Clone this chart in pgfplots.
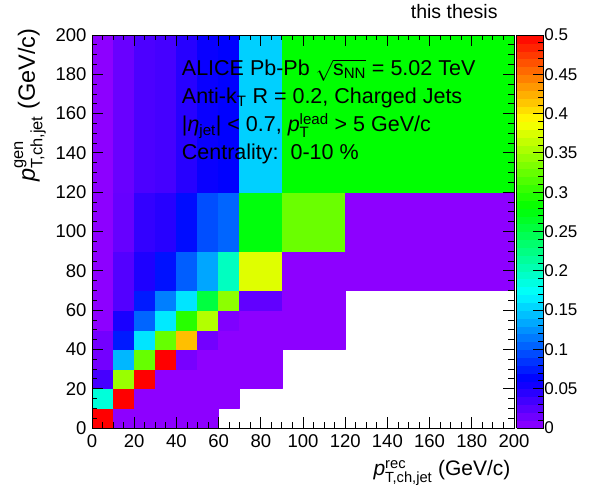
\documentclass[border=0pt]{standalone}
\usepackage{fontspec}
\setmainfont{Liberation Sans}
\usepackage{amsmath}
\usepackage{pgfplots}
\pgfplotsset{compat=1.18}
\pgfplotsset{colormap={rootpal}{rgb(0pt)=(0.573,0,1) rgb(34.4pt)=(0,0,1) rgb(94.4pt)=(0,1,1) rgb(154.4pt)=(0,1,0) rgb(214.4pt)=(1,1,0) rgb(274.4pt)=(1,0,0)}}
\begin{document}
\begin{tikzpicture}
\useasboundingbox (-92pt,-70pt) rectangle (498pt,428pt);
\begin{axis}[
  at={(0pt,0pt)}, anchor=south west,
  scale only axis, width=422pt, height=393pt,
  xmin=0, xmax=200, ymin=0, ymax=200,
  xtick={0,20,...,200}, ytick={0,20,...,200},
  minor tick num=3,
  tick align=inside,
  major tick length=11pt, minor tick length=5.5pt,
  every tick/.style={black, line width=0.8pt},
  axis line style={line width=0.8pt},
  axis on top, clip=false,
  /pgf/number format/assume math mode=true,
  tick label style={font=\fontsize{18.5}{18.5}\selectfont},
  xticklabel style={yshift=-3pt},
  yticklabel style={xshift=-2pt},
  colormap name=rootpal,
  point meta min=0, point meta max=0.5,
  colorbar sampled,
  colorbar/width=27pt,
  colorbar style={
    samples=51,
    at={(parent axis.north east)}, anchor=north west, xshift=-6pt,
    scale only axis, width=27pt, height=393pt,
    ymin=0, ymax=0.5,
    ytick={0,0.05,0.1,0.15,0.2,0.25,0.3,0.35,0.4,0.45,0.5},
    yticklabels={0,0.05,0.1,0.15,0.2,0.25,0.3,0.35,0.4,0.45,0.5},
    minor y tick num=4,
    tick align=inside,
    ytick pos=right,
    major tick length=11pt, minor tick length=5.5pt,
    every tick/.style={black, line width=0.8pt},
    axis line style={line width=0.6pt},
    yticklabel style={font=\fontsize{17}{17}\selectfont, xshift=-2.7pt},
  },
  xlabel={\textit{p}$^{\text{rec}}_{\text{T,ch,jet}}$ (GeV/c)},
  xlabel style={font=\fontsize{21}{21}\selectfont, at={([yshift=-48pt]axis description cs:1,0)}, anchor=base east},
  ylabel={\textit{p}$^{\text{gen}}_{\text{T,ch,jet}}$ (GeV/c)},
  ylabel style={font=\fontsize{23.5}{23.5}\selectfont, at={([xshift=-57pt,yshift=10pt]axis description cs:0,1)}, anchor=base east},
]
\addplot[patch, patch type=rectangle, shader=flat, point meta=explicit] coordinates {
% row 0: 0-10
(0,0)[0.5] (10,0)[0.5] (10,10)[0.5] (0,10)[0.5]
(10,0)[0.002] (20,0)[0.002] (20,10)[0.002] (10,10)[0.002]
(20,0)[0.002] (30,0)[0.002] (30,10)[0.002] (20,10)[0.002]
(30,0)[0.002] (40,0)[0.002] (40,10)[0.002] (30,10)[0.002]
(40,0)[0.002] (50,0)[0.002] (50,10)[0.002] (40,10)[0.002]
(50,0)[0.002] (60,0)[0.002] (60,10)[0.002] (50,10)[0.002]
% row 1: 10-20
(0,10)[0.188] (10,10)[0.188] (10,20)[0.188] (0,20)[0.188]
(10,10)[0.5] (20,10)[0.5] (20,20)[0.5] (10,20)[0.5]
(20,10)[0.002] (30,10)[0.002] (30,20)[0.002] (20,20)[0.002]
(30,10)[0.002] (40,10)[0.002] (40,20)[0.002] (30,20)[0.002]
(40,10)[0.002] (50,10)[0.002] (50,20)[0.002] (40,20)[0.002]
(50,10)[0.002] (60,10)[0.002] (60,20)[0.002] (50,20)[0.002]
(60,10)[0.002] (70,10)[0.002] (70,20)[0.002] (60,20)[0.002]
% row 2: 20-30
(0,20)[0.033] (10,20)[0.033] (10,30)[0.033] (0,30)[0.033]
(10,20)[0.347] (20,20)[0.347] (20,30)[0.347] (10,30)[0.347]
(20,20)[0.5] (30,20)[0.5] (30,30)[0.5] (20,30)[0.5]
(30,20)[0.002] (40,20)[0.002] (40,30)[0.002] (30,30)[0.002]
(40,20)[0.002] (50,20)[0.002] (50,30)[0.002] (40,30)[0.002]
(50,20)[0.002] (60,20)[0.002] (60,30)[0.002] (50,30)[0.002]
(60,20)[0.002] (70,20)[0.002] (70,30)[0.002] (60,30)[0.002]
(70,20)[0.002] (90,20)[0.002] (90,30)[0.002] (70,30)[0.002]
% row 3: 30-40
(0,30)[0.0135] (10,30)[0.0135] (10,40)[0.0135] (0,40)[0.0135]
(10,30)[0.141] (20,30)[0.141] (20,40)[0.141] (10,40)[0.141]
(20,30)[0.325] (30,30)[0.325] (30,40)[0.325] (20,40)[0.325]
(30,30)[0.5] (40,30)[0.5] (40,40)[0.5] (30,40)[0.5]
(40,30)[0.011] (50,30)[0.011] (50,40)[0.011] (40,40)[0.011]
(50,30)[0.002] (60,30)[0.002] (60,40)[0.002] (50,40)[0.002]
(60,30)[0.002] (70,30)[0.002] (70,40)[0.002] (60,40)[0.002]
(70,30)[0.002] (90,30)[0.002] (90,40)[0.002] (70,40)[0.002]
% row 4: 40-50
(0,40)[0.0135] (10,40)[0.0135] (10,50)[0.0135] (0,50)[0.0135]
(10,40)[0.074] (20,40)[0.074] (20,50)[0.074] (10,50)[0.074]
(20,40)[0.161] (30,40)[0.161] (30,50)[0.161] (20,50)[0.161]
(30,40)[0.325] (40,40)[0.325] (40,50)[0.325] (30,50)[0.325]
(40,40)[0.418] (50,40)[0.418] (50,50)[0.418] (40,50)[0.418]
(50,40)[0.0135] (60,40)[0.0135] (60,50)[0.0135] (50,50)[0.0135]
(60,40)[0.002] (70,40)[0.002] (70,50)[0.002] (60,50)[0.002]
(70,40)[0.002] (90,40)[0.002] (90,50)[0.002] (70,50)[0.002]
(90,40)[0.002] (120,40)[0.002] (120,50)[0.002] (90,50)[0.002]
% row 5: 50-60
(0,50)[0.002] (10,50)[0.002] (10,60)[0.002] (0,60)[0.002]
(10,50)[0.052] (20,50)[0.052] (20,60)[0.052] (10,60)[0.052]
(20,50)[0.106] (30,50)[0.106] (30,60)[0.106] (20,60)[0.106]
(30,50)[0.163] (40,50)[0.163] (40,60)[0.163] (30,60)[0.163]
(40,50)[0.298] (50,50)[0.298] (50,60)[0.298] (40,60)[0.298]
(50,50)[0.358] (60,50)[0.358] (60,60)[0.358] (50,60)[0.358]
(60,50)[0.008] (70,50)[0.008] (70,60)[0.008] (60,60)[0.008]
(70,50)[0.002] (90,50)[0.002] (90,60)[0.002] (70,60)[0.002]
(90,50)[0.002] (120,50)[0.002] (120,60)[0.002] (90,60)[0.002]
% row 6: 60-70
(0,60)[0.002] (10,60)[0.002] (10,70)[0.002] (0,70)[0.002]
(10,60)[0.027] (20,60)[0.027] (20,70)[0.027] (10,70)[0.027]
(20,60)[0.074] (30,60)[0.074] (30,70)[0.074] (20,70)[0.074]
(30,60)[0.117] (40,60)[0.117] (40,70)[0.117] (30,70)[0.117]
(40,60)[0.161] (50,60)[0.161] (50,70)[0.161] (40,70)[0.161]
(50,60)[0.254] (60,60)[0.254] (60,70)[0.254] (50,70)[0.254]
(60,60)[0.342] (70,60)[0.342] (70,70)[0.342] (60,70)[0.342]
(70,60)[0.021] (90,60)[0.021] (90,70)[0.021] (70,70)[0.021]
(90,60)[0.002] (120,60)[0.002] (120,70)[0.002] (90,70)[0.002]
% row 7: 70-90
(0,70)[0.002] (10,70)[0.002] (10,90)[0.002] (0,90)[0.002]
(10,70)[0.027] (20,70)[0.027] (20,90)[0.027] (10,90)[0.027]
(20,70)[0.05] (30,70)[0.05] (30,90)[0.05] (20,90)[0.05]
(30,70)[0.07] (40,70)[0.07] (40,90)[0.07] (30,90)[0.07]
(40,70)[0.103] (50,70)[0.103] (50,90)[0.103] (40,90)[0.103]
(50,70)[0.134] (60,70)[0.134] (60,90)[0.134] (50,90)[0.134]
(60,70)[0.199] (70,70)[0.199] (70,90)[0.199] (60,90)[0.199]
(70,70)[0.377] (90,70)[0.377] (90,90)[0.377] (70,90)[0.377]
(90,70)[0.002] (120,70)[0.002] (120,90)[0.002] (90,90)[0.002]
(120,70)[0.002] (200,70)[0.002] (200,90)[0.002] (120,90)[0.002]
% row 8: 90-120
(0,90)[0.002] (10,90)[0.002] (10,120)[0.002] (0,120)[0.002]
(10,90)[0.019] (20,90)[0.019] (20,120)[0.019] (10,120)[0.019]
(20,90)[0.041] (30,90)[0.041] (30,120)[0.041] (20,120)[0.041]
(30,90)[0.046] (40,90)[0.046] (40,120)[0.046] (30,120)[0.046]
(40,90)[0.068] (50,90)[0.068] (50,120)[0.068] (40,120)[0.068]
(50,90)[0.096] (60,90)[0.096] (60,120)[0.096] (50,120)[0.096]
(60,90)[0.106] (70,90)[0.106] (70,120)[0.106] (60,120)[0.106]
(70,90)[0.276] (90,90)[0.276] (90,120)[0.276] (70,120)[0.276]
(90,90)[0.327] (120,90)[0.327] (120,120)[0.327] (90,120)[0.327]
(120,90)[0.002] (200,90)[0.002] (200,120)[0.002] (120,120)[0.002]
% row 9: 120-200
(0,120)[0.002] (10,120)[0.002] (10,200)[0.002] (0,200)[0.002]
(10,120)[0.0175] (20,120)[0.0175] (20,200)[0.0175] (10,200)[0.0175]
(20,120)[0.03] (30,120)[0.03] (30,200)[0.03] (20,200)[0.03]
(30,120)[0.033] (40,120)[0.033] (40,200)[0.033] (30,200)[0.033]
(40,120)[0.046] (50,120)[0.046] (50,200)[0.046] (40,200)[0.046]
(50,120)[0.059] (60,120)[0.059] (60,200)[0.059] (50,200)[0.059]
(60,120)[0.063] (70,120)[0.063] (70,200)[0.063] (60,200)[0.063]
(70,120)[0.152] (90,120)[0.152] (90,200)[0.152] (70,200)[0.152]
(90,120)[0.281] (120,120)[0.281] (120,200)[0.281] (90,200)[0.281]
(120,120)[0.281] (200,120)[0.281] (200,200)[0.281] (120,200)[0.281]
};
\begin{scope}[font=\fontsize{21.5}{21.5}\selectfont]
\node[anchor=base west, inner sep=0pt] at (rel axis cs:0.2126,0.8964) {ALICE Pb-Pb $\sqrt{\text{s}_{\text{NN}}}$ = 5.02 TeV};
\node[anchor=base west, inner sep=0pt] at (rel axis cs:0.2126,0.8262) {Anti-k$_{\text{T}}$ R = 0.2, Charged Jets};
\node[anchor=base west, inner sep=0pt] at (rel axis cs:0.2126,0.7540) {|\textit{η}$_{\text{jet}}$| < 0.7, \textit{p}$^{\text{lead}}_{\text{T}}$ > 5 GeV/c};
\node[anchor=base west, inner sep=0pt] at (rel axis cs:0.2126,0.6820) {Centrality:\ \ 0-10 \%};
\end{scope}
\end{axis}
\node[anchor=base west, inner sep=0pt, font=\fontsize{19.5}{19.5}\selectfont] at (318.7pt,409pt) {this thesis};
\end{tikzpicture}
\end{document}
